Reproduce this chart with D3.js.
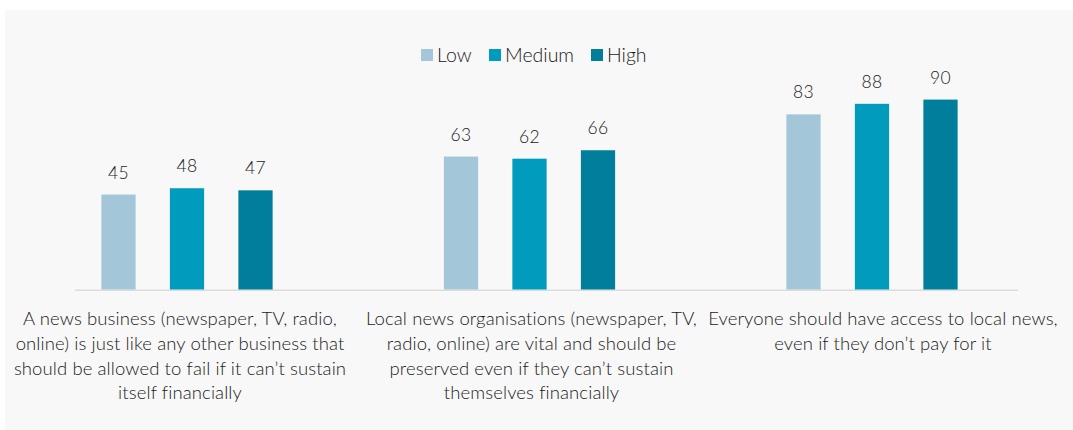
<!DOCTYPE html>
<html>
<head>
<meta charset="utf-8">
<script src="https://cdn.jsdelivr.net/npm/d3@7"></script>
<style>
  html, body { margin: 0; padding: 0; background: #ffffff; }
  svg { display: block; }
  text { font-family: Lato, "Open Sans", sans-serif; font-weight: 300; fill: #1a1a1a; }
</style>
</head>
<body>
<svg id="chart" width="1073" height="430"></svg>
<script>
// Survey statements (x categories), one label line per entry
const categories = ["business", "organisations", "access"];
const categoryLines = [
  ["A news business (newspaper, TV, radio,", "online) is just like any other business that", "should be allowed to fail if it can\u2019t sustain", "itself financially"],
  ["Local news organisations (newspaper, TV,", "radio, online) are vital and should be", "preserved even if they can\u2019t sustain", "themselves financially"],
  ["Everyone should have access to local news,", "even if they don\u2019t pay for it"]
];

// Series
const seriesNames = ["Low", "Medium", "High"];
const seriesColors = ["#a3c6d8", "#009bbd", "#007e9b"];
const lowValues = [45, 63, 83];
const mediumValues = [48, 62, 88];
const highValues = [47, 66, 90];

const seriesValues = [lowValues, mediumValues, highValues];
const rows = categories.map((c, i) => ({
  category: c,
  values: seriesNames.map((s, j) => ({ series: s, value: seriesValues[j][i] }))
}));

const svg = d3.select("#chart");

// Panel background
svg.append("rect")
  .attr("x", 5).attr("y", 10)
  .attr("width", 1073).attr("height", 425)
  .attr("rx", 4)
  .attr("fill", "#f8f8f8");

const y = d3.scaleLinear().domain([0, 100]).range([289.5, 78.5]);

const x0 = d3.scaleBand().domain(categories).range([15.75, 1043.25]).padding(0);
const groupWidth = x0.bandwidth() * 0.6;
const x1 = d3.scaleBand().domain(seriesNames)
  .range([-groupWidth / 2, groupWidth / 2])
  .paddingInner(0.5).paddingOuter(0.25);
const color = d3.scaleOrdinal().domain(seriesNames).range(seriesColors);

// Label positions for category text
const xLabel = d3.scaleBand().domain(categories).range([4.25, 1058.75]).padding(0);

// Baseline
svg.append("line")
  .attr("x1", 75).attr("x2", 1018)
  .attr("y1", y(0) + 0.75).attr("y2", y(0) + 0.75)
  .attr("stroke", "#dcdcdc").attr("stroke-width", 1.5);

const groups = svg.append("g").selectAll("g")
  .data(rows).join("g")
  .attr("transform", d => `translate(${x0(d.category) + x0.bandwidth() / 2},0)`);

groups.selectAll("rect")
  .data(d => d.values).join("rect")
  .attr("x", d => x1(d.series))
  .attr("width", x1.bandwidth())
  .attr("y", d => y(d.value))
  .attr("height", d => y(0) - y(d.value))
  .attr("fill", d => color(d.series));

groups.selectAll("text.value")
  .data(d => d.values).join("text")
  .attr("class", "value")
  .attr("x", d => x1(d.series) + x1.bandwidth() / 2)
  .attr("y", d => y(d.value) - 16)
  .attr("text-anchor", "middle")
  .style("font-size", "17.5px")
  .style("letter-spacing", "0.3px")
  .text(d => d.value);

// Category labels
const labels = svg.append("g").selectAll("text")
  .data(categories).join("text")
  .attr("text-anchor", "middle")
  .style("font-size", "18.5px")
  .style("letter-spacing", "0.1px")
  .attr("transform", d => `translate(${xLabel(d) + xLabel.bandwidth() / 2},325)`);

labels.selectAll("tspan")
  .data((d, i) => categoryLines[i]).join("tspan")
  .attr("x", 0)
  .attr("y", (d, i) => i * 24.8)
  .text(d => d);

// Legend
const legendX = [421, 489, 591];
const legend = svg.append("g").selectAll("g")
  .data(seriesNames).join("g")
  .attr("transform", (d, i) => `translate(${legendX[i]},49)`);
legend.append("rect")
  .attr("width", 12).attr("height", 12)
  .attr("fill", d => color(d));
legend.append("text")
  .attr("x", 16).attr("y", 12.5)
  .style("font-size", "19.5px")
  .text(d => d);
</script>
</body>
</html>
